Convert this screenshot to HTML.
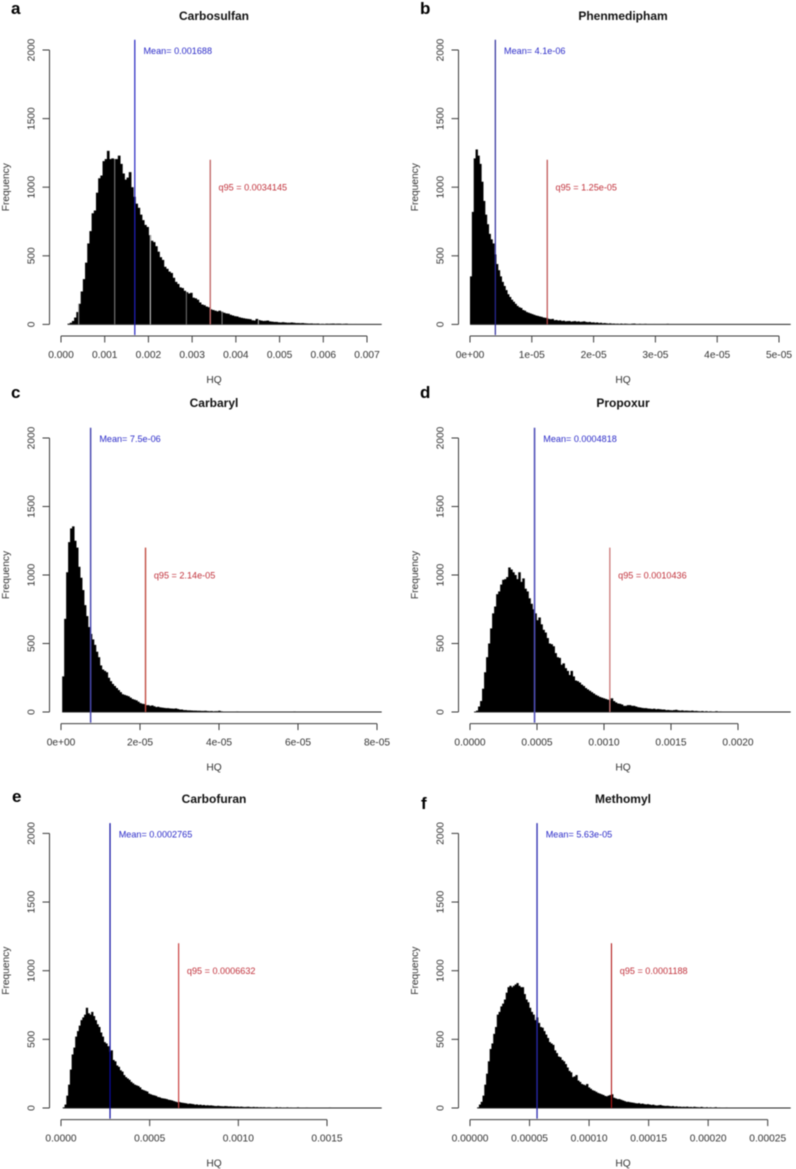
<!DOCTYPE html>
<html lang="en">
<head>
<meta charset="utf-8">
<title>HQ frequency histograms</title>
<style>
html,body{margin:0;padding:0;background:#fff;}
body{width:796px;height:1169px;overflow:hidden;}
svg{display:block;filter:blur(0.45px);font-family:"Liberation Sans",Arial,sans-serif;}
</style>
</head>
<body>
<svg id="figure" xmlns="http://www.w3.org/2000/svg" width="796" height="1169" viewBox="0 0 796 1169"></svg>
<script>
// ---- Panel a: Carbosulfan ----
const binStartA = 0.00015;
const binWidthA = 0.00005;
const freqA = [5,12,25,50,90,150,240,330,450,590,680,810,830,960,1065,1085,1190,1205,1265,1205,1210,1205,1205,1230,1170,1100,1055,1070,1110,1000,930,880,850,800,760,725,710,650,610,600,570,530,490,470,420,405,385,375,340,310,295,270,265,245,235,225,230,195,190,180,160,145,140,130,125,110,105,100,95,100,92,85,80,78,70,65,60,58,52,48,45,42,40,38,30,28,40,32,28,25,26,28,22,20,18,18,15,14,16,14,12,12,14,12,10,10,9,10,8,7,6,7,5,5,6,3,4,2,5,4,5,6,4,5,5,3,4,5,2,3,2,3,1,2,0,1];
const tickValuesA = [0,0.001,0.002,0.003,0.004,0.005,0.006,0.007];
const tickLabelsA = ["0.000","0.001","0.002","0.003","0.004","0.005","0.006","0.007"];
const gapValuesA = [0.000405,0.001228,0.002044,0.002868,0.003684,0.004515];
const gapShadesA = ["#999","#888","#ddd","#777","#888","#bbb"];

// ---- Panel b: Phenmedipham ----
const binStartB = 0;
const binWidthB = 3e-7;
const freqB = [350,820,1210,1275,1230,1170,1040,900,800,730,660,620,590,510,440,395,350,310,280,250,220,200,180,165,150,135,125,120,105,100,90,85,80,75,70,65,62,58,55,50,48,45,40,38,40,30,32,28,30,25,27,22,24,25,20,22,24,20,22,18,20,22,18,16,18,14,15,12,14,10,12,8,10,8,6,8,5,6,4,5,3,6,3,5,4,2,1,5,6,3,1,4,0,3,4,0,2,0,0,3,0,0,0,0,0,0,4];
const tickValuesB = [0,1e-5,2e-5,3e-5,4e-5,5e-5];
const tickLabelsB = ["0e+00","1e-05","2e-05","3e-05","4e-05","5e-05"];

// ---- Panel c: Carbaryl ----
const binStartC = 0.0000003;
const binWidthC = 5e-7;
const freqC = [260,680,1020,1240,1340,1355,1250,1200,1060,980,890,780,700,620,570,530,490,440,400,340,310,300,290,250,225,205,190,175,160,145,130,125,120,115,105,95,90,85,75,65,60,58,50,50,45,48,42,36,38,34,32,30,28,28,26,25,24,26,22,18,18,14,14,12,12,11,10,10,9,9,8,8,9,7,6,7,5,6,6,9,5,3,2,1,3,1,2,3,4,3,1,0,2,1,0,3,0,2,0,0,3,0,3,0,2,0,0,3,3,0,0,0,3,0,0,0,0,4,0,0];
const tickValuesC = [0,2e-5,4e-5,6e-5,8e-5];
const tickLabelsC = ["0e+00","2e-05","4e-05","6e-05","8e-05"];

// ---- Panel d: Propoxur ----
const binStartD = 0.00003;
const binWidthD = 0.000015;
const freqD = [3,10,40,80,170,290,400,500,610,720,770,860,880,930,965,970,985,1055,1040,1020,1000,970,1020,950,975,900,880,830,790,750,720,670,690,640,600,580,540,500,495,480,430,400,395,345,355,320,300,270,300,260,230,225,215,200,190,175,165,155,145,135,125,118,110,105,100,95,90,85,100,80,70,62,60,55,45,45,50,50,45,45,40,35,33,30,28,28,25,24,22,24,20,22,20,18,18,14,15,13,12,14,16,12,10,12,9,10,9,8,10,7,8,6,5,7,4,6,3,5,2,3,6,2,4,3,0,2,0,3,0,0,2,0,0,0,3,0,0,3];
const tickValuesD = [0,0.0005,0.001,0.0015,0.002];
const tickLabelsD = ["0.0000","0.0005","0.0010","0.0015","0.0020"];

// ---- Panel e: Carbofuran ----
const binStartE = 0.00001;
const binWidthE = 0.00001;
const freqE = [5,25,90,170,280,390,440,520,560,600,640,660,680,730,690,680,700,670,640,610,590,550,520,480,470,450,410,420,350,340,310,300,275,265,240,225,215,205,190,180,170,165,160,150,135,130,125,120,105,100,95,92,88,80,78,72,70,68,65,60,58,55,50,46,42,44,40,38,36,34,30,32,30,28,24,26,22,24,20,22,18,20,18,19,17,15,14,16,14,13,12,14,13,11,12,10,11,9,10,8,10,8,7,8,9,7,6,8,6,7,5,6,5,6,4,5,5,4,3,4,6,3,5,2,4,3,5,2,4,3,1,2,5,2,1,0,2,4,0,0,0,0,0,0,0,0,0,0,0,0,4];
const tickValuesE = [0,0.0005,0.001,0.0015];
const tickLabelsE = ["0.0000","0.0005","0.0010","0.0015"];

// ---- Panel f: Methomyl ----
const binStartF = 0.000006;
const binWidthF = 0.0000015;
const freqF = [5,25,45,90,170,250,340,430,470,540,590,680,700,740,760,790,840,880,890,880,890,900,910,890,880,880,830,790,770,730,700,680,640,660,620,590,585,560,535,510,480,470,460,420,400,375,370,350,340,320,295,270,260,225,230,240,200,190,175,170,165,175,150,140,130,125,118,110,105,100,95,88,85,90,95,100,75,70,65,65,60,55,50,45,45,42,40,38,35,33,35,30,32,28,26,28,25,22,24,20,18,20,22,18,16,15,16,14,12,14,10,12,9,10,8,9,8,10,7,8,6,9,7,6,5,8,5,4,6,3,5,2,4,6,3,4,0,3,0,4,0,2,0,0,0,0,3];
const tickValuesF = [0,0.00005,0.0001,0.00015,0.0002,0.00025];
const tickLabelsF = ["0.00000","0.00005","0.00010","0.00015","0.00020","0.00025"];

// ---- Shared frequency axis ----
const freqTicks = [0,500,1000,1500,2000];
const freqTickLabels = ["0","500","1000","1500","2000"];

const NS = "http://www.w3.org/2000/svg";
const fig = document.getElementById("figure");

function make(parent, tag, attrs, text) {
  const node = document.createElementNS(NS, tag);
  Object.keys(attrs).forEach(function (k) { node.setAttribute(k, attrs[k]); });
  if (text !== undefined) node.textContent = text;
  parent.appendChild(node);
  return node;
}

const panels = [
  {key:"a",title:"Carbosulfan",freq:freqA,start:binStartA,width:binWidthA,ticks:tickValuesA,labels:tickLabelsA,mean:0.001688,meanText:"Mean= 0.001688",q95:0.0034145,q95Text:"q95 = 0.0034145",col:0,y2000:50,y0:324.4,tickEnd:367,letterX:11,letterY:14,titleY:20,gaps:gapValuesA,shades:gapShadesA,meanCol:"#2222c0",meanW:1.2,qCol:"#c46a6a",qW:1.4},
  {key:"b",title:"Phenmedipham",freq:freqB,start:binStartB,width:binWidthB,ticks:tickValuesB,labels:tickLabelsB,mean:4.1e-6,meanText:"Mean= 4.1e-06",q95:1.25e-5,q95Text:"q95 = 1.25e-05",col:1,y2000:50,y0:324.4,tickEnd:779,letterX:420,letterY:14,titleY:20,gaps:[],shades:[],meanCol:"#2a2a9a",meanW:1.2,qCol:"#bc4a4a",qW:1.2},
  {key:"c",title:"Carbaryl",freq:freqC,start:binStartC,width:binWidthC,ticks:tickValuesC,labels:tickLabelsC,mean:7.5e-6,meanText:"Mean= 7.5e-06",q95:2.14e-5,q95Text:"q95 = 2.14e-05",col:0,y2000:438,y0:712,tickEnd:377,letterX:11,letterY:398,titleY:407,gaps:[],shades:[],meanCol:"#4a4ab0",meanW:1.5,qCol:"#c04a40",qW:1.4},
  {key:"d",title:"Propoxur",freq:freqD,start:binStartD,width:binWidthD,ticks:tickValuesD,labels:tickLabelsD,mean:0.0004818,meanText:"Mean= 0.0004818",q95:0.0010436,q95Text:"q95 = 0.0010436",col:1,y2000:438,y0:712,tickEnd:738,letterX:420,letterY:398,titleY:407,gaps:[],shades:[],meanCol:"#5050b8",meanW:1.6,qCol:"#cc7878",qW:1.3},
  {key:"e",title:"Carbofuran",freq:freqE,start:binStartE,width:binWidthE,ticks:tickValuesE,labels:tickLabelsE,mean:0.0002765,meanText:"Mean= 0.0002765",q95:0.0006632,q95Text:"q95 = 0.0006632",col:0,y2000:833.4,y0:1108,tickEnd:327,letterX:12,letterY:802,titleY:803,gaps:[],shades:[],meanCol:"#0a0aa0",meanW:1.2,qCol:"#c84040",qW:1.2},
  {key:"f",title:"Methomyl",freq:freqF,start:binStartF,width:binWidthF,ticks:tickValuesF,labels:tickLabelsF,mean:0.0000563,meanText:"Mean= 5.63e-05",q95:0.0001188,q95Text:"q95 = 0.0001188",col:1,y2000:833.4,y0:1108,tickEnd:767.7,letterX:421,letterY:809,titleY:803,gaps:[],shades:[],meanCol:"#2a2ab0",meanW:1.3,qCol:"#b01818",qW:1.1}
];

panels.forEach(function (p) {
  const dx = p.col === 0 ? 0 : 409;
  const x0 = 61 + dx;
  const maxTick = p.ticks[p.ticks.length - 1];
  const xScale = function (v) { return x0 + (v / maxTick) * (p.tickEnd - x0); };
  const yScale = function (f) { return p.y0 - (f / 2000) * (p.y0 - p.y2000); };
  const axisColor = "#3a3a3a";
  const textColor = "#333";
  const titleCx = 214 + dx;
  const axisLineY = p.y0 + 11.6;

  const group = make(fig, "g", {});
  
  

  const letter = make(group, "text", {x:p.letterX, y:p.letterY, "font-size":17, "font-weight":"bold", fill:"#000"}, p.key);
  
  

  const title = make(group, "text", {x:titleCx, y:p.titleY, "font-size":12, "font-weight":"bold", fill:"#111", "text-anchor":"middle"}, p.title);
  
  

  // histogram bars
  const bars = make(group, "g", {fill:"#000"});
  
  
  p.freq.forEach(function (f, i) {
    const left = xScale(p.start + i * p.width);
    const right = xScale(p.start + (i + 1) * p.width);
    const top = yScale(f);
    const bar = make(bars, "rect", {x:left.toFixed(2), y:top.toFixed(2), width:(right - left + 0.5).toFixed(2), height:(p.y0 - top).toFixed(2)});
    
    
  });

  // baseline along zero-count bins
  const baseEnd = 381.7 + dx;
  const baseline = make(group, "line", {x1:xScale(p.start).toFixed(2), x2:baseEnd, y1:p.y0, y2:p.y0, stroke:"#222", "stroke-width":1});
  
  

  // light resampling gaps visible in the source image
  p.gaps.forEach(function (g, i) {
    const idx = Math.floor((g - p.start) / p.width);
    const gap = make(group, "line", {x1:xScale(g).toFixed(2), x2:xScale(g).toFixed(2), y1:yScale(p.freq[idx]).toFixed(2), y2:p.y0, stroke:p.shades[i], "stroke-width":1});
    
    
  });

  // y axis
  const yAxisX = 49.5 + dx;
  const yAxis = make(group, "g", {stroke:axisColor, "stroke-width":1, fill:"none"});
  
  
  const yLine = make(yAxis, "line", {x1:yAxisX, x2:yAxisX, y1:yScale(2000), y2:yScale(0)});
  
  
  freqTicks.forEach(function (t, i) {
    const ty = yScale(t);
    const tick = make(yAxis, "line", {x1:yAxisX - 7, x2:yAxisX, y1:ty, y2:ty});
    
    
    const lx = 34.5 + dx;
    const label = make(group, "text", {x:lx, y:ty, "font-size":10.2, fill:textColor, "text-anchor":"middle", transform:"rotate(-90 " + lx + " " + ty + ")"}, freqTickLabels[i]);
    
    
  });
  const yTitleX = 9 + dx;
  const yTitleY = (p.y0 + p.y2000) / 2;
  const yTitle = make(group, "text", {x:yTitleX, y:yTitleY, "font-size":10.2, fill:textColor, "text-anchor":"middle", transform:"rotate(-90 " + yTitleX + " " + yTitleY + ")"}, "Frequency");
  
  

  // x axis
  const xAxis = make(group, "g", {stroke:axisColor, "stroke-width":1, fill:"none"});
  
  
  const xLine = make(xAxis, "line", {x1:xScale(p.ticks[0]), x2:xScale(maxTick), y1:axisLineY, y2:axisLineY});
  
  
  p.ticks.forEach(function (t, i) {
    const tx = xScale(t);
    const tick = make(xAxis, "line", {x1:tx, x2:tx, y1:axisLineY, y2:axisLineY + 6.5});
    
    
    const label = make(group, "text", {x:tx, y:axisLineY + 22, "font-size":10.2, fill:textColor, "text-anchor":"middle"}, p.labels[i]);
    
    
  });
  const xTitle = make(group, "text", {x:titleCx, y:axisLineY + 47, "font-size":10.2, fill:textColor, "text-anchor":"middle"}, "HQ");
  
  

  // mean reference line
  const mx = xScale(p.mean);
  const meanLine = make(group, "line", {x1:mx, x2:mx, y1:yScale(2075), y2:axisLineY - 1, stroke:p.meanCol, "stroke-width":p.meanW});
  
  
  const meanLabel = make(group, "text", {x:mx + 8.7, y:yScale(2000) + 4, "font-size":9.1, fill:"#2a2ac8"}, p.meanText);
  
  

  // 95th percentile reference line
  const qx = xScale(p.q95);
  const qLine = make(group, "line", {x1:qx, x2:qx, y1:yScale(1200), y2:p.y0, stroke:p.qCol, "stroke-width":p.qW});
  
  
  const qLabel = make(group, "text", {x:qx + 8.3, y:yScale(1000) + 3.5, "font-size":9.1, fill:"#c0303a"}, p.q95Text);
  
  
});
</script>
</body>
</html>
